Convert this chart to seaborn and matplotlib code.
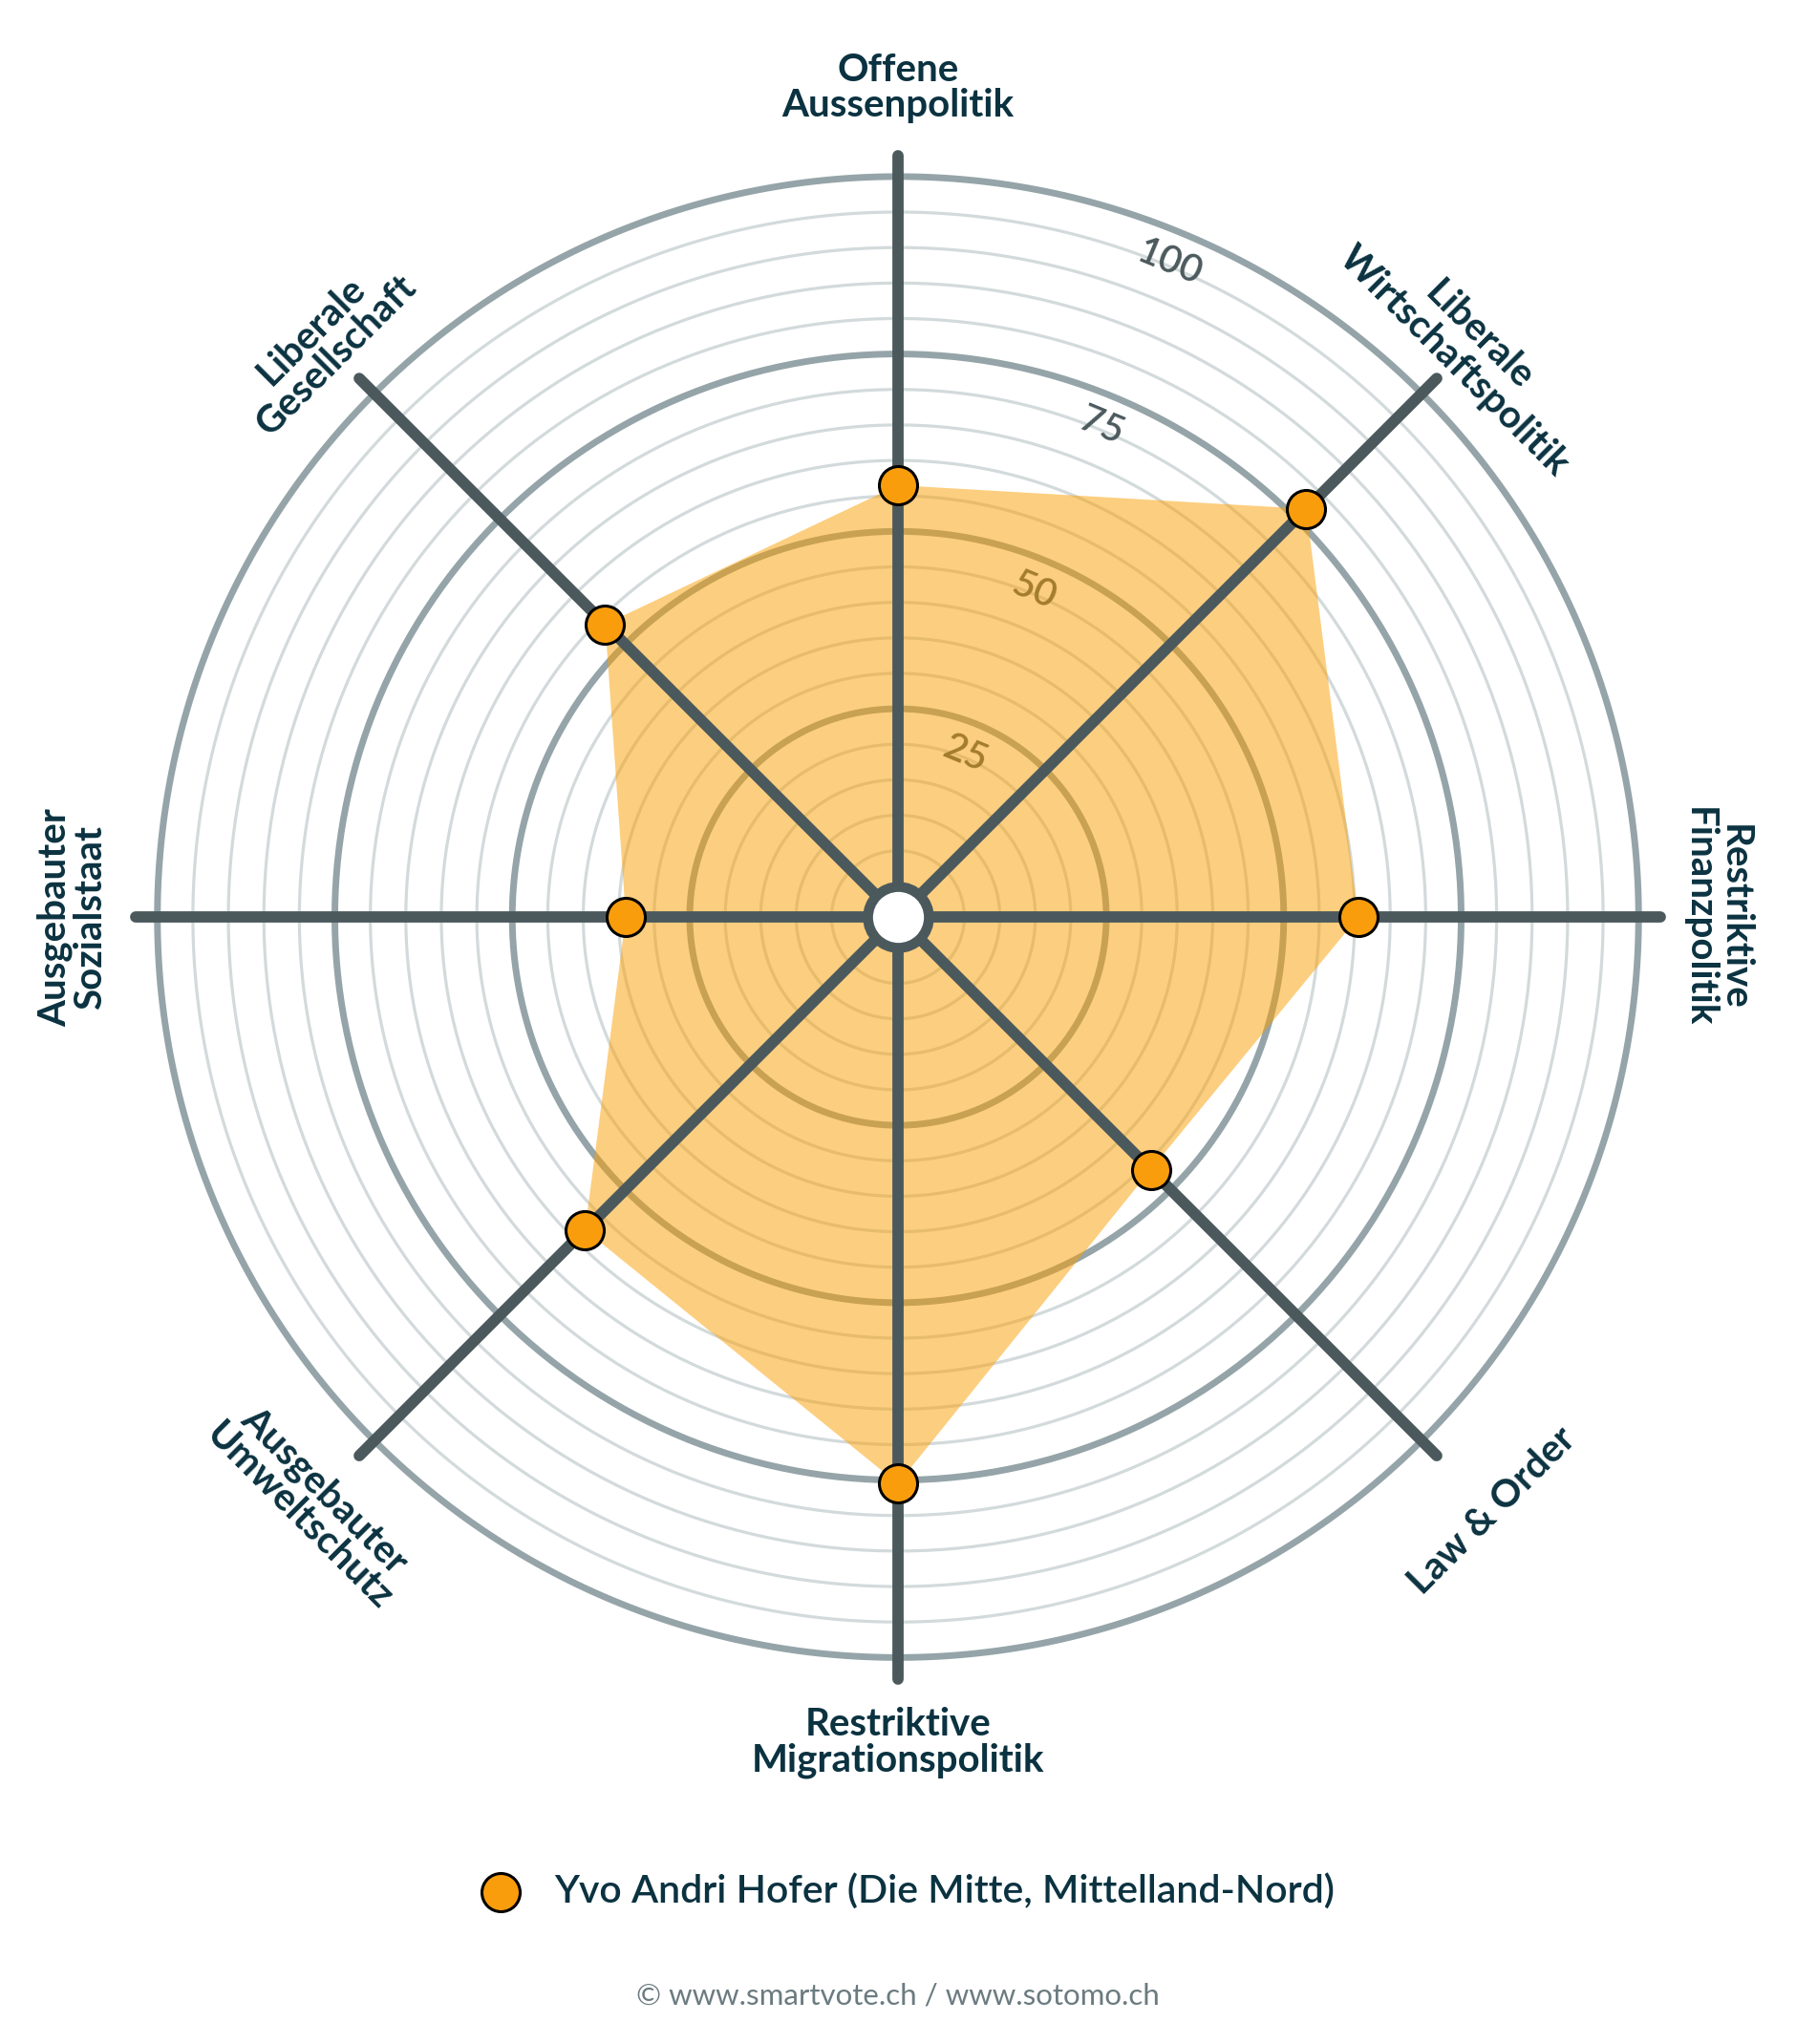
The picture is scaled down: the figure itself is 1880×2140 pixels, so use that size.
import numpy as np
import matplotlib
matplotlib.use("Agg")
import matplotlib.pyplot as plt
import seaborn as sns

# smartvote spider, values 0-100 per axis (clockwise from top)
categories = [
    "Offene\nAussenpolitik",
    "Liberale\nWirtschaftspolitik",
    "Restriktive\nFinanzpolitik",
    "Law & Order",
    "Restriktive\nMigrationspolitik",
    "Ausgebauter\nUmweltschutz",
    "Ausgebauter\nSozialstaat",
    "Liberale\nGesellschaft",
]
values = [56.5, 77, 60.5, 46, 75.5, 58, 34, 54]
ring_ticks = [25, 50, 75, 100]
candidate = "Yvo Andri Hofer (Die Mitte, Mittelland-Nord)"
source = "© www.smartvote.ch / www.sotomo.ch"

sns.set_theme(style="white")
plt.rcParams['font.family'] = ['Lato', 'DejaVu Sans']

DARK = '#0b3240'
SPOKE = '#4b595d'
RING = '#95a4a8'
RING_THIN = '#d3dadb'
ORANGE = '#fb9f00'

fig = plt.figure(figsize=(18.8, 21.4), dpi=100)
ax = fig.add_axes([0.0718, 0.1752, 0.8564, 0.7523], projection='polar')
ax.set_theta_zero_location('N')
ax.set_theta_direction(-1)
ax.set_ylim(0, 104)
ax.set_rorigin(-4.35)
ax.grid(False)
ax.set_xticks([])
ax.set_yticks([])
ax.spines['polar'].set_visible(False)
ax.set_facecolor('none')

n = len(categories)
angles = np.arange(n) * 2 * np.pi / n

# rings every 5, heavier every 25
circle = np.linspace(0, 2 * np.pi, 500)
for r in range(5, 101, 5):
    if r % 25 == 0:
        ax.plot(circle, np.full_like(circle, r), color=RING, lw=5, zorder=2)
    else:
        ax.plot(circle, np.full_like(circle, r), color=RING_THIN, lw=2.3, zorder=1)

for t in ring_ticks:
    ax.text(np.deg2rad(22.5), t - 4.5, str(t), rotation=-22.5, rotation_mode='anchor',
            ha='center', va='center', fontsize=29, fontweight='semibold', color=SPOKE, zorder=2.5)

# filled profile (over the rings, under the spokes)
ax.fill(np.append(angles, angles[0]), values + values[:1], color=ORANGE, alpha=0.5, lw=0, zorder=3)

for a in angles:
    ax.plot([a, a], [0, 103], color=SPOKE, lw=8.5, solid_capstyle='round', zorder=4, clip_on=False)

ax.plot([0.5], [0.5], marker='o', transform=ax.transAxes, ms=46, mfc='white',
        mec=SPOKE, mew=7.6, zorder=6, clip_on=False)

sns.scatterplot(x=angles, y=values, ax=ax, s=830, color='#f99d0c', edgecolor='black',
                linewidth=2.2, zorder=5, label=candidate, legend=False, clip_on=False)

rotations = [0, -45, -90, 45, 0, -45, 90, 45]
label_r = [112.5, 109, 111, 114, 112, 112.5, 112, 110]
for a, lab, rot, lr in zip(angles, categories, rotations, label_r):
    ax.text(a, lr, lab, rotation=rot, rotation_mode='anchor', ha='center', va='center',
            fontsize=29, fontweight='bold', color=DARK, linespacing=1.0)

handles, labels = ax.get_legend_handles_labels()
leg = fig.legend(handles, labels, loc='center', bbox_to_anchor=(0.5, 1 - 1980 / 2140),
                 frameon=False, fontsize=29.5, handletextpad=0.35, scatterpoints=1)
for t in leg.get_texts():
    t.set_color(DARK)
    t.set_fontweight('semibold')

fig.text(0.5, 1 - 2090 / 2140, source, ha='center', va='center', fontsize=22.5, color='#6b7b80')

fig.savefig('out.png', dpi=100, facecolor='white')
